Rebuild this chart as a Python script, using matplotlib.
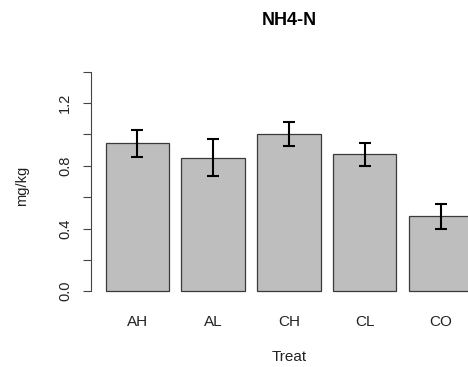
import numpy as np
import matplotlib
matplotlib.use("Agg")
import matplotlib.pyplot as plt

# data
treat = ["AH", "AL", "CH", "CL", "CO"]
mean_val = [0.943, 0.851, 1.003, 0.873, 0.477]
err_val = [0.086, 0.119, 0.076, 0.075, 0.078]

plt.rcParams["font.family"] = ["Liberation Sans", "DejaVu Sans"]

fig = plt.figure(figsize=(4.68, 3.67), dpi=100)
# R-style plot region, it runs past the right edge of the image like the original
ax = fig.add_axes([0.1944, 0.1826, 0.846, 0.6457])

# barplot with width 1, space 0.2 as R does it
x = 0.2 + np.arange(len(treat)) * 1.2 + 0.5
ax.bar(x, mean_val, width=1.0, color="#bebebe", edgecolor="#3a3a3a", linewidth=0.9)
ax.errorbar(x, mean_val, yerr=err_val, fmt="none", ecolor="black",
            elinewidth=1.5, capsize=4.2, capthick=1.5)

ax.set_xlim(-0.032, 6.232)
ax.set_ylim(-0.056, 1.456)

for s in ["top", "right", "bottom"]:
    ax.spines[s].set_visible(False)
ax.spines["left"].set_bounds(0, 1.4)
ax.spines["left"].set_color("#444444")
ax.spines["left"].set_linewidth(0.8)

yt = np.round(np.arange(0, 1.41, 0.2), 1)
ax.set_yticks(yt)
ax.set_yticklabels([f"{v:.1f}" if i % 2 == 0 else "" for i, v in enumerate(yt)],
                   rotation=90, va="center", fontsize=10.5, color="#222222")
ax.tick_params(axis="y", length=5.5, width=0.8, color="#444444", pad=8)

ax.set_xticks(x)
ax.set_xticklabels(treat, fontsize=11, color="#222222")
ax.tick_params(axis="x", length=0, pad=11)

ax.set_xlabel("Treat", fontsize=11, color="#222222")
ax.xaxis.label.set_va("center")
ax.xaxis.set_label_coords(0.5, -0.2406)

ax.set_ylabel("mg/kg", fontsize=10.5, color="#222222")
ax.yaxis.label.set_va("center")
ax.yaxis.set_label_coords(-0.174, 0.48)

t = ax.set_title("NH4-N", fontsize=13, fontweight="bold", y=1.1815, pad=0)
t.set_va("center")

fig.savefig("out.png", dpi=100)
